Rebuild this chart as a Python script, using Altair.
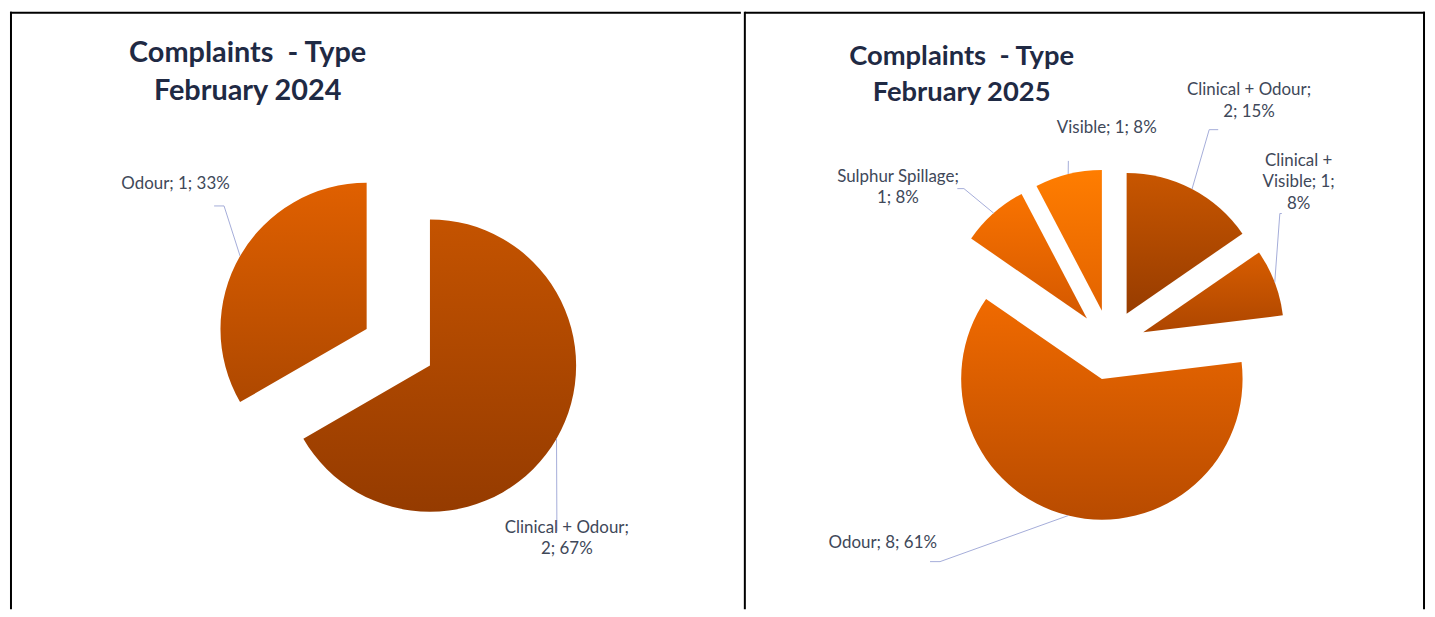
import math
import altair as alt
import pandas as pd

# ---------------- data ----------------
TITLE_2024 = ["Complaints\u00a0\u00a0- Type", "February 2024"]
CATEGORIES_2024 = ["Clinical + Odour", "Odour"]
COUNTS_2024 = [2, 1]
PERCENT_2024 = [67, 33]

TITLE_2025 = ["Complaints\u00a0\u00a0- Type", "February 2025"]
CATEGORIES_2025 = ["Clinical + Odour", "Clinical + Visible", "Odour", "Sulphur Spillage", "Visible"]
COUNTS_2025 = [2, 1, 8, 1, 1]
PERCENT_2025 = [15, 8, 61, 8, 8]

# ---------------- styles ----------------
FILLS_2024 = {
    "Clinical + Odour": ("#c45300", "#953b00"),
    "Odour": ("#e06000", "#ae4800"),
}
FILLS_2025 = {
    "Clinical + Odour": ("#c85600", "#973c00"),
    "Clinical + Visible": ("#d85d00", "#ad4600"),
    "Odour": ("#f06a00", "#b84b00"),
    "Sulphur Spillage": ("#f97300", "#d45800"),
    "Visible": ("#ff7d00", "#e36300"),
}
TITLE_COLOR = "#1f2a44"
LABEL_COLOR = "#404859"
LEADER_COLOR = "#a4acd9"
FONT = "Lato"

# ---------------- layout ----------------
PANEL_H = 601
LAYOUT_2024 = dict(
    width=735, cx=390.5, cy=337.5, r=147, explode=0.25,
    title_x=239, title_y=42, title_size=29, title_lh=38,
    right_border=False,
    labels={
        "Clinical + Odour": dict(text=(1.153, -1.234), start=(1.085, -1.259), elbow=1.085, wrap=17),
        "Odour": dict(text=(-1.524, 1.119), start=(-1.260, 0.967), elbow=-1.192, wrap=17),
    },
)
LAYOUT_2025 = dict(
    width=684, cx=367.5, cy=335, r=141.5, explode=0.25,
    title_x=218, title_y=45.2, title_size=27.5, title_lh=36.6,
    right_border=True,
    labels={
        "Clinical + Odour": dict(text=(0.986, 1.809), start=(0.767, 1.529), elbow=0.703, wrap=17),
        "Clinical + Visible": dict(text=(1.339, 1.307), start=(1.219, 0.933), elbow=1.205, wrap=11),
        "Odour": dict(text=(-1.617, -1.411), start=(-1.281, -1.541), elbow=-1.210, wrap=17),
        "Sulphur Spillage": dict(text=(-1.509, 1.194), start=(-1.087, 1.110), elbow=-1.040, wrap=17),
        "Visible": dict(text=(-0.025, 1.543), start=(-0.298, 1.307), elbow=-0.298, wrap=17),
    },
)


def wrap(s, n):
    lines, cur = [], ""
    for w in s.split(" "):
        cand = w if not cur else cur + " " + w
        if len(cand) <= n:
            cur = cand
        else:
            lines.append(cur)
            cur = w
    lines.append(cur)
    return "\n".join(lines)


def panel(title, cats, counts, pcts, fills, L):
    W, H, r = L["width"], PANEL_H, L["r"]
    rows = []
    for i, (c, v, p) in enumerate(zip(cats, counts, pcts)):
        lab = L["labels"][c]
        rows.append(dict(
            cat=c, value=v, order=i,
            label=wrap(f"{c}; {v}; {p}%", lab["wrap"]),
            tu=lab["text"][0], tv=lab["text"][1],
            su=lab["start"][0], sv=lab["start"][1], eu=lab["elbow"],
        ))
    df = pd.DataFrame(rows)
    total = sum(counts)
    e = L["explode"]

    xs = alt.Scale(domain=[-L["cx"] / r, (W - L["cx"]) / r], nice=False, zero=False)
    ys = alt.Scale(domain=[-(H - L["cy"]) / r, L["cy"] / r], nice=False, zero=False)
    ts = alt.Scale(domain=[0, total], range=[0, 2 * math.pi])

    base = (
        alt.Chart(df)
        .transform_window(cum="sum(value)", sort=[alt.SortField("order")], frame=[None, 0])
        .transform_joinaggregate(total="sum(value)")
        .transform_calculate(start="datum.cum - datum.value")
        .transform_calculate(mid="PI * (datum.cum + datum.start) / datum.total")
        .transform_calculate(cxu=f"{e} * sin(datum.mid)")
        .transform_calculate(cyu=f"{e} * cos(datum.mid)")
        .transform_calculate(ex="datum.cxu + sin(datum.mid)")
        .transform_calculate(ey="datum.cyu + cos(datum.mid)")
    )

    layers = []
    for c in cats:
        c0, c1 = fills[c]
        grad = alt.LinearGradient(
            gradient="linear",
            stops=[alt.GradientStop(color=c0, offset=0), alt.GradientStop(color=c1, offset=1)],
            x1=0, x2=0, y1=0, y2=1,
        )
        layers.append(
            base.transform_filter(alt.datum.cat == c)
            .mark_arc(radius=r, fill=grad)
            .encode(
                x=alt.X("cxu:Q", scale=xs, axis=None),
                y=alt.Y("cyu:Q", scale=ys, axis=None),
                theta=alt.Theta("start:Q", scale=ts),
                theta2=alt.Theta2("cum:Q"),
            )
        )

    hook = base.mark_rule(color=LEADER_COLOR, strokeWidth=1).encode(
        x=alt.X("su:Q", scale=xs, axis=None),
        y=alt.Y("sv:Q", scale=ys, axis=None),
        x2="eu:Q", y2="sv:Q",
    )
    spoke = base.mark_rule(color=LEADER_COLOR, strokeWidth=1).encode(
        x=alt.X("eu:Q", scale=xs, axis=None),
        y=alt.Y("sv:Q", scale=ys, axis=None),
        x2="ex:Q", y2="ey:Q",
    )
    labels = base.mark_text(
        font=FONT, fontSize=17, color=LABEL_COLOR, lineBreak="\n", lineHeight=21.5,
        align="center", baseline="middle",
    ).encode(
        x=alt.X("tu:Q", scale=xs, axis=None),
        y=alt.Y("tv:Q", scale=ys, axis=None),
        text="label:N",
    )
    ttl = alt.Chart(pd.DataFrame({"t": ["\n".join(title)]})).mark_text(
        font=FONT, fontSize=L["title_size"], fontWeight="bold", color=TITLE_COLOR,
        lineBreak="\n", lineHeight=L["title_lh"], align="center", baseline="middle",
    ).encode(x=alt.value(L["title_x"]), y=alt.value(L["title_y"]), text="t:N")

    one = pd.DataFrame({"k": [0]})
    borders = [
        alt.Chart(one).mark_rule(color="black", strokeWidth=2).encode(
            x=alt.value(0), x2=alt.value(W), y=alt.value(1)),
        alt.Chart(one).mark_rule(color="black", strokeWidth=2).encode(
            x=alt.value(1 if not L["right_border"] else 0), y=alt.value(0), y2=alt.value(H)),
    ]
    if L["right_border"]:
        borders.append(alt.Chart(one).mark_rule(color="black", strokeWidth=2).encode(
            x=alt.value(W - 1), y=alt.value(0), y2=alt.value(H)))

    return alt.layer(*layers, hook, spoke, labels, ttl, *borders).properties(width=W, height=H)


left = panel(TITLE_2024, CATEGORIES_2024, COUNTS_2024, PERCENT_2024, FILLS_2024, LAYOUT_2024)
right = panel(TITLE_2025, CATEGORIES_2025, COUNTS_2025, PERCENT_2025, FILLS_2025, LAYOUT_2025)

chart = (
    alt.hconcat(left, right, spacing=0)
    .properties(padding=0, background="white")
    .configure_view(stroke="transparent")
)
chart.save("out.html", embed_options={"renderer": "svg", "actions": False})
